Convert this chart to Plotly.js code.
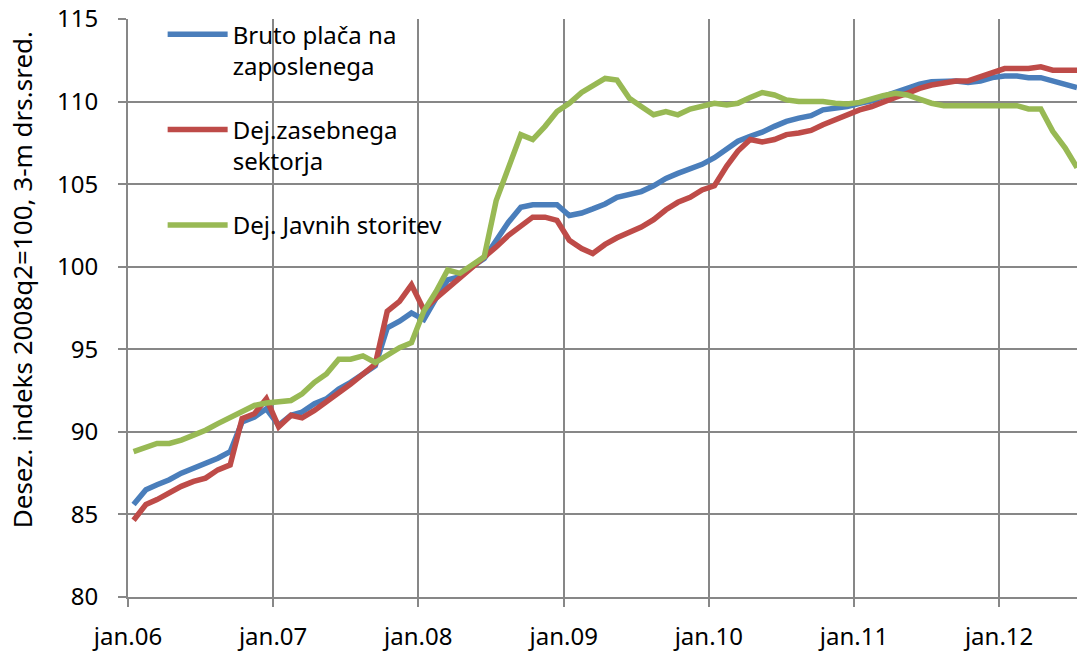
<!DOCTYPE html>
<html>
<head>
<meta charset="utf-8">
<script src="https://cdn.plot.ly/plotly-3.0.1.min.js"></script>
<style>html,body{margin:0;padding:0;background:#fff;}#chart{width:1077px;height:653px;}</style>
</head>
<body>
<div id="chart"></div>
<script>
// Monthly observations, jan 2006 .. jul 2012 (plotted at mid-month)
const startYear = 2006;
const nMonths = 79;
const months = [];
for (let i = 0; i < nMonths; i++) {
  const y = startYear + Math.floor(i / 12);
  const m = (i % 12) + 1;
  months.push(y + '-' + String(m).padStart(2, '0') + '-15');
}

const seriesNames = ['Bruto plača na<br>zaposlenega', 'Dej.zasebnega<br>sektorja', 'Dej. Javnih storitev'];
const yTitle = 'Desez. indeks 2008q2=100, 3-m drs.sred.';

const brutoPlaca = [
  85.6, 86.5, 86.8, 87.1, 87.5, 87.8, 88.1, 88.4, 88.8, 90.6, 90.9, 91.4,
  90.4, 91.0, 91.2, 91.7, 92.0, 92.6, 93.0, 93.5, 94.0, 96.3, 96.7, 97.2,
  96.8, 98.1, 99.2, 99.4, 100.0, 100.5, 101.6, 102.7, 103.6, 103.75, 103.75, 103.75,
  103.1, 103.25, 103.5, 103.8, 104.2, 104.35, 104.55, 104.9, 105.35, 105.65, 105.9, 106.2,
  106.6, 107.1, 107.6, 107.9, 108.15, 108.5, 108.8, 109.0, 109.15, 109.5, 109.6, 109.7,
  109.9, 110.05, 110.3, 110.55, 110.8, 111.05, 111.2, 111.2, 111.25, 111.15, 111.25, 111.45,
  111.55, 111.55, 111.45, 111.45, 111.25, 111.1, 110.85
];

const zasebniSektor = [
  84.65, 85.6, 85.9, 86.3, 86.7, 87.0, 87.2, 87.7, 88.0, 90.8, 91.1, 92.0,
  90.3, 91.0, 90.85, 91.3, 91.8, 92.4, 92.9, 93.5, 94.1, 97.3, 97.9, 98.9,
  97.4, 98.1, 98.7, 99.3, 99.9, 100.5, 101.2, 101.9, 102.5, 103.0, 103.0, 102.8,
  101.6, 101.1, 100.8, 101.35, 101.75, 102.1, 102.4, 102.85, 103.45, 103.9, 104.2, 104.65,
  104.9, 106.1, 107.0, 107.7, 107.55, 107.7, 108.0, 108.1, 108.25, 108.6, 108.9, 109.2,
  109.5, 109.7, 110.0, 110.25, 110.5, 110.8, 111.0, 111.1, 111.25, 111.25, 111.5, 111.75,
  112.0, 112.0, 112.0, 112.1, 111.9, 111.9, 111.9
];

const javneStoritve = [
  88.8, 89.05, 89.3, 89.3, 89.5, 89.8, 90.1, 90.5, 90.9, 91.2, 91.6, 91.75,
  91.8, 91.9, 92.3, 93.0, 93.5, 94.4, 94.4, 94.6, 94.2, 94.6, 95.1, 95.4,
  97.3, 98.5, 99.8, 99.6, 100.1, 100.6, 104.0, 106.0, 108.0, 107.7, 108.5, 109.4,
  109.9, 110.55, 111.0, 111.4, 111.3, 110.2, 109.7, 109.2, 109.4, 109.2, 109.55, 109.7,
  109.9, 109.8, 109.9, 110.25, 110.55, 110.4, 110.1, 110.0, 110.0, 110.0, 109.9, 109.85,
  109.95, 110.2, 110.35, 110.5, 110.4, 110.15, 109.9, 109.75, 109.75, 109.75, 109.75, 109.75,
  109.75, 109.75, 109.55, 109.55, 108.2, 107.2, 106.0
];

const tickDates = ['2006-01-01', '2007-01-01', '2008-01-01', '2009-01-01', '2010-01-01', '2011-01-01', '2012-01-01'];
const tickLabels = ['jan.06', 'jan.07', 'jan.08', 'jan.09', 'jan.10', 'jan.11', 'jan.12'];
const yTickVals = [80, 85, 90, 95, 100, 105, 110, 115];

const colors = ['#4A7EBB', '#BE4B48', '#98B954'];
const seriesData = [brutoPlaca, zasebniSektor, javneStoritve];

const traces = seriesData.map((vals, i) => ({
  type: 'scatter',
  mode: 'lines',
  x: months,
  y: vals,
  name: seriesNames[i],
  legendgroup: 'g' + i,
  line: { color: colors[i], width: 5.5, shape: 'linear' },
  hoverinfo: 'x+y'
}));

const FONT = '"Noto Sans", "Open Sans", sans-serif';
const gridCol = '#878787';

const layout = {
  width: 1077,
  height: 653,
  margin: { l: 128, r: 0, t: 19, b: 56, pad: 0 },
  paper_bgcolor: '#ffffff',
  plot_bgcolor: '#ffffff',
  font: { family: FONT, size: 24, color: '#000000' },
  showlegend: true,
  legend: {
    x: 0.0365,
    y: 1.012,
    xanchor: 'left',
    yanchor: 'top',
    bgcolor: 'rgba(0,0,0,0)',
    borderwidth: 0,
    font: { family: FONT, size: 24, color: '#000000' },
    tracegroupgap: 30,
    valign: 'top',
    itemwidth: 60
  },
  xaxis: {
    type: 'date',
    range: ['2006-01-01', '2012-07-15'],
    tickmode: 'array',
    tickvals: tickDates,
    ticktext: tickLabels,
    showgrid: true,
    gridcolor: gridCol,
    gridwidth: 2,
    showline: true,
    linecolor: gridCol,
    linewidth: 2,
    ticks: 'outside',
    ticklen: 8,
    tickwidth: 2,
    tickcolor: gridCol,
    ticklabelstandoff: 9,
    zeroline: false,
    tickfont: { family: FONT, size: 24, color: '#000' }
  },
  yaxis: {
    range: [80, 115],
    tickmode: 'array',
    tickvals: yTickVals,
    showgrid: true,
    gridcolor: gridCol,
    gridwidth: 2,
    showline: true,
    linecolor: gridCol,
    linewidth: 2,
    ticks: 'outside',
    ticklen: 8,
    tickwidth: 2,
    tickcolor: gridCol,
    ticklabelstandoff: 15,
    zeroline: false,
    tickfont: { family: FONT, size: 24, color: '#000' }
  },
  annotations: [{
    text: yTitle,
    xref: 'paper', yref: 'paper',
    x: 0, y: 0.548,
    xanchor: 'center', yanchor: 'middle',
    xshift: -106,
    textangle: -90,
    showarrow: false,
    font: { family: FONT, size: 26, color: '#000' }
  }]
};

Plotly.newPlot('chart', traces, layout, { displayModeBar: false, staticPlot: true });
</script>
</body>
</html>
